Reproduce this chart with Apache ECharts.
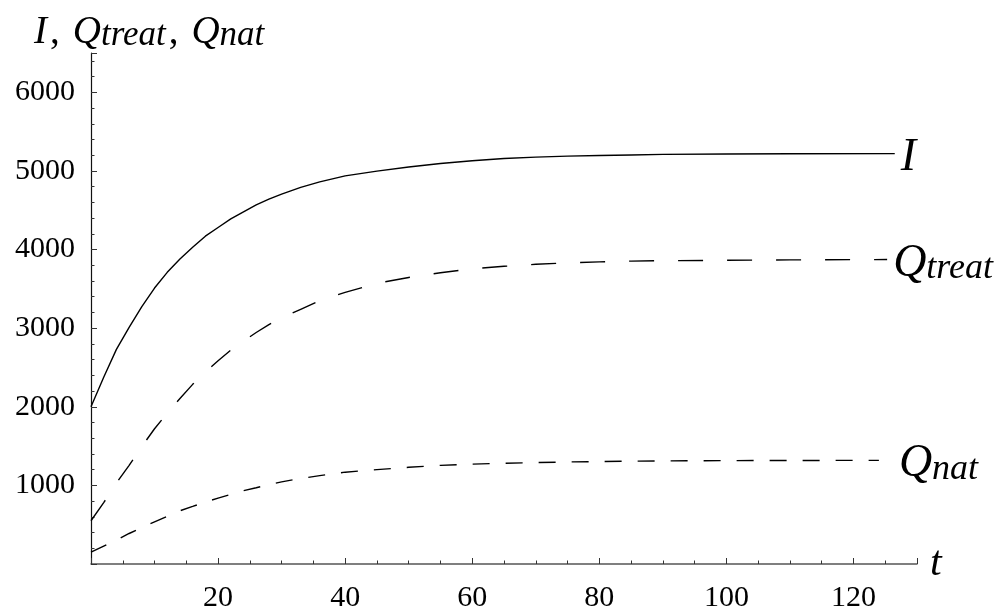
<!DOCTYPE html>
<html><head><meta charset="utf-8">
<script src="https://cdn.jsdelivr.net/npm/echarts@6/dist/echarts.min.js"></script>
<style>html,body{margin:0;padding:0;background:#fff}#c{width:1006px;height:612px}</style>
</head><body><div id="c"></div>
<script>
// shared time points (t); each series adds its own last time point below
const tValues = [0, 2, 4, 6, 8, 10, 12, 14, 16, 18, 20, 22, 24, 26, 28, 30, 33, 36, 40, 45, 50, 55, 60, 65, 70, 75, 80, 85, 90, 100, 110];
// last time point of each curve: I, Q_treat, Q_nat
const tLast = [126.5, 125.3, 124];
// I (solid)
const iValues = [2000, 2375, 2730, 3010, 3275, 3510, 3710, 3880, 4030, 4170, 4280, 4390, 4480, 4568, 4640, 4705, 4790, 4860, 4937, 4998, 5050, 5095, 5130, 5158, 5175, 5188, 5196, 5203, 5210, 5215, 5218, 5220];
// Q_treat (long dash)
const qTreatValues = [550, 780, 1030, 1255, 1495, 1720, 1920, 2105, 2285, 2440, 2585, 2720, 2835, 2945, 3045, 3130, 3240, 3350, 3455, 3570, 3645, 3705, 3755, 3787, 3812, 3830, 3843, 3853, 3858, 3863, 3868, 3873];
// Q_nat (short dash)
const qNatValues = [150, 228, 305, 388, 465, 537, 607, 677, 732, 788, 838, 885, 932, 970, 1010, 1045, 1088, 1124, 1168, 1200, 1230, 1255, 1270, 1282, 1290, 1298, 1303, 1308, 1312, 1315, 1317, 1318];
const xTickLabels = ['20', '40', '60', '80', '100', '120'];
const yTickLabels = ['1000', '2000', '3000', '4000', '5000', '6000'];

const serif = 'Liberation Serif';
const pairs = (vals, last) => tValues.concat([last]).map((t, i) => [t, vals[i]]);
const mathRich = {
  m: { fontFamily: serif, fontStyle: 'italic', fontWeight: 'normal', fontSize: 46, color: '#000', lineHeight: 46 },
  s: { fontFamily: serif, fontStyle: 'italic', fontWeight: 'normal', fontSize: 36, color: '#000', verticalAlign: 'bottom', lineHeight: 34 }
};
const nameRich = {
  m: { fontFamily: serif, fontStyle: 'italic', fontWeight: 'normal', fontSize: 39, color: '#000', lineHeight: 40, verticalAlign: 'top' },
  p: { fontFamily: serif, fontStyle: 'normal', fontWeight: 'normal', fontSize: 39, color: '#000', lineHeight: 40, verticalAlign: 'top', padding: [0, 13, 0, 3] },
  s: { fontFamily: serif, fontStyle: 'italic', fontWeight: 'normal', fontSize: 35, color: '#000', lineHeight: 30, verticalAlign: 'bottom', padding: [15, 0, 0, 0] }
};

const chart = echarts.init(document.getElementById('c'), null, { renderer: 'canvas' });
const lineSeries = (name, vals, last, dash, label, dist) => ({
  name, type: 'line', data: pairs(vals, last), symbol: 'none', smooth: false,
  lineStyle: { color: '#000', width: 1.4, type: dash },
  endLabel: {
    show: true, formatter: label, distance: dist, offset: [0, 4],
    fontFamily: serif, fontStyle: 'italic', fontWeight: 'normal', color: '#000', rich: mathRich
  },
  emphasis: { disabled: true }, silent: true
});

chart.setOption({
  animation: false,
  backgroundColor: '#fff',
  title: {
    text: '{m|I}{p|,}{m|Q}{s|treat}{p|,}{m|Q}{s|nat}',
    left: 34, top: 13, padding: 0,
    textStyle: { fontFamily: serif, fontWeight: 'normal', fontStyle: 'italic', color: '#000', rich: nameRich }
  },
  grid: { left: 91, right: 89, top: 53, bottom: 48, containLabel: false, outerBoundsMode: 'none' },
  xAxis: {
    type: 'value', min: 0, max: 130, interval: 20,
    name: 't', nameLocation: 'end', nameGap: 13,
    nameTextStyle: { fontFamily: serif, fontStyle: 'italic', fontSize: 42, color: '#000', verticalAlign: 'middle' },
    axisLine: { show: true, onZero: false, lineStyle: { color: '#555', width: 1.5 } },
    axisTick: { show: true, inside: true, length: 6, lineStyle: { color: '#333', width: 1 } },
    minorTick: { show: true, splitNumber: 4, length: 3.5, lineStyle: { color: '#333', width: 1 } },
    splitLine: { show: false }, minorSplitLine: { show: false },
    axisLabel: {
      margin: 19, fontFamily: serif, fontSize: 30, color: '#000',
      formatter: v => xTickLabels.includes(String(v)) ? String(v) : ''
    }
  },
  yAxis: {
    type: 'value', min: 0, max: 6500, interval: 1000,
    axisLine: { show: true, onZero: false, lineStyle: { color: '#111', width: 1.2 } },
    axisTick: { show: true, inside: true, length: 6, lineStyle: { color: '#333', width: 1 } },
    minorTick: { show: true, splitNumber: 5, length: 3.5, lineStyle: { color: '#333', width: 1 } },
    splitLine: { show: false }, minorSplitLine: { show: false },
    axisLabel: {
      margin: 16, fontFamily: serif, fontSize: 30, color: '#000',
      formatter: v => yTickLabels.includes(String(v)) ? String(v) : ''
    }
  },
  series: [
    lineSeries('I', iValues, tLast[0], 'solid', '{m|I}', 6),
    lineSeries('Qtreat', qTreatValues, tLast[1], [25, 24], '{m|Q}{s|treat}', 6),
    lineSeries('Qnat', qNatValues, tLast[2], [17, 16], '{m|Q}{s|nat}', 20)
  ]
});
</script>
</body></html>
